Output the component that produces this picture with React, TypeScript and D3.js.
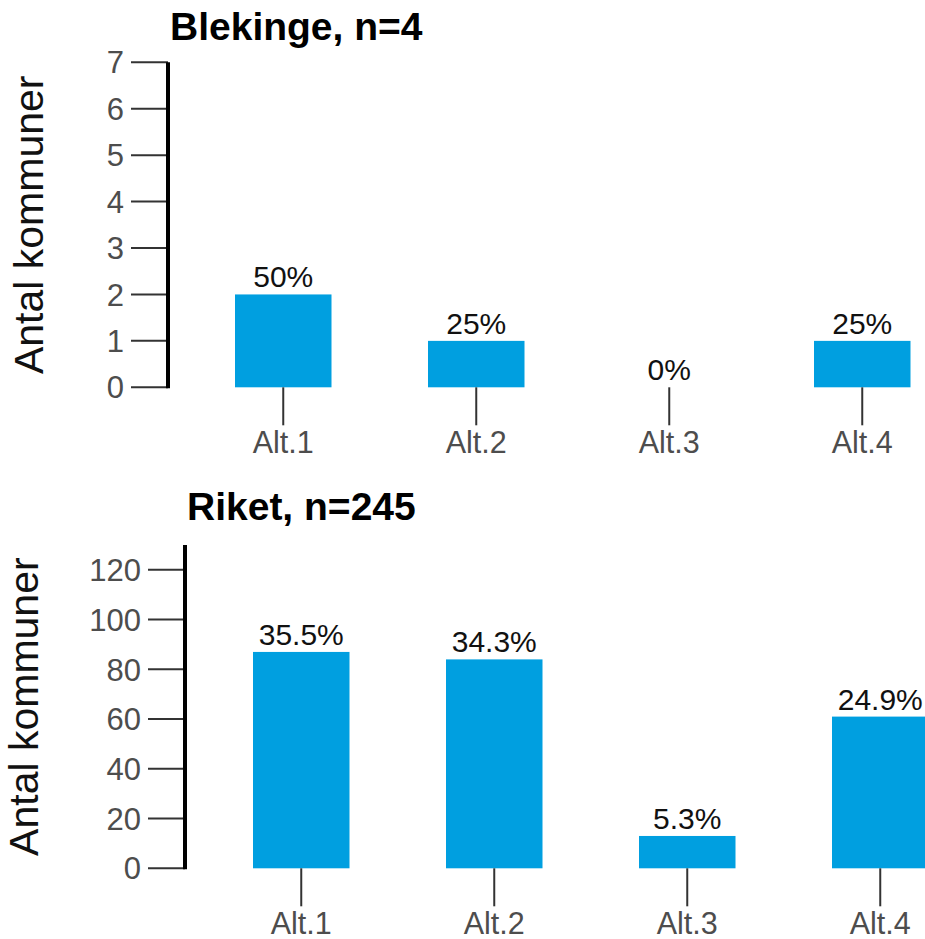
import React from "react";
import * as d3 from "d3";

const categories = ["Alt.1", "Alt.2", "Alt.3", "Alt.4"];
const blekingeValues = [2, 1, 0, 1];
const blekingeLabels = ["50%", "25%", "0%", "25%"];
const blekingeTicks = [0, 1, 2, 3, 4, 5, 6, 7];
const riketValues = [87, 84, 13, 61];
const riketLabels = ["35.5%", "34.3%", "5.3%", "24.9%"];
const riketTicks = [0, 20, 40, 60, 80, 100, 120];

const FONT = "'Liberation Sans', Arial, Helvetica, sans-serif";
const BAR = "#009FE0";
const GREY = "#4D4D4D";

type PanelProps = {
  title: string;
  values: number[];
  labels: string[];
  ticks: number[];
  yMax: number;
  axisX: number;
  yTop: number;
  yBottom: number;
  barStart: number;
  titleX: number;
  titleY: number;
  yLabelX: number;
};

function Panel(p: PanelProps) {
  const y = d3.scaleLinear().domain([0, p.yMax]).range([p.yBottom, p.yTop]);
  const x = d3
    .scaleBand<string>()
    .domain(categories)
    .range([p.barStart, p.barStart + 675.5])
    .paddingInner(0.5)
    .paddingOuter(0);
  const bw = x.bandwidth();
  const tickLen = 37;
  return (
    <g>
      <text
        x={p.titleX}
        y={p.titleY}
        fontFamily={FONT}
        fontWeight="bold"
        fontSize={39}
        fill="#000"
      >
        {p.title}
      </text>
      <text
        transform={`translate(${p.yLabelX},${(p.yTop + p.yBottom) / 2}) rotate(-90)`}
        textAnchor="middle"
        fontFamily={FONT}
        fontSize={41}
        fill="#111"
      >
        Antal kommuner
      </text>
      {p.ticks.map((t) => (
        <g key={t}>
          <line
            x1={p.axisX - tickLen}
            x2={p.axisX}
            y1={y(t)}
            y2={y(t)}
            stroke="#333"
            strokeWidth={2}
          />
          <text
            x={p.axisX - tickLen - 7}
            y={y(t)}
            dy="0.36em"
            textAnchor="end"
            fontFamily={FONT}
            fontSize={31}
            fill={GREY}
          >
            {t}
          </text>
        </g>
      ))}
      <line
        x1={p.axisX}
        x2={p.axisX}
        y1={y(p.yMax)}
        y2={y(0) + 1}
        stroke="#000"
        strokeWidth={4}
      />
      {categories.map((c, i) => {
        const cx = (x(c) as number) + bw / 2;
        return (
          <g key={c}>
            <rect
              x={x(c) as number}
              y={y(p.values[i])}
              width={bw}
              height={y(0) - y(p.values[i])}
              fill={BAR}
            />
            <line
              x1={cx}
              x2={cx}
              y1={y(0)}
              y2={y(0) + 38}
              stroke="#333"
              strokeWidth={2}
            />
            <text
              x={cx}
              y={y(0) + 66}
              textAnchor="middle"
              fontFamily={FONT}
              fontSize={30.5}
              fill={GREY}
            >
              {c}
            </text>
            <text
              x={cx}
              y={y(p.values[i]) - 7}
              textAnchor="middle"
              fontFamily={FONT}
              fontSize={30}
              fill="#111"
            >
              {p.labels[i]}
            </text>
          </g>
        );
      })}
    </g>
  );
}

export default function App() {
  return (
    <svg
      width={925}
      height={939}
      style={{ position: "absolute", left: 0, top: 0, background: "#fff" }}
    >
      <Panel
        title="Blekinge, n=4"
        values={blekingeValues}
        labels={blekingeLabels}
        ticks={blekingeTicks}
        yMax={7}
        axisX={168}
        yTop={62.3}
        yBottom={387.3}
        barStart={235}
        titleX={170}
        titleY={40}
        yLabelX={43}
      />
      <Panel
        title="Riket, n=245"
        values={riketValues}
        labels={riketLabels}
        ticks={riketTicks}
        yMax={130}
        axisX={185}
        yTop={545}
        yBottom={868.3}
        barStart={253}
        titleX={187}
        titleY={520}
        yLabelX={38}
      />
    </svg>
  );
}
